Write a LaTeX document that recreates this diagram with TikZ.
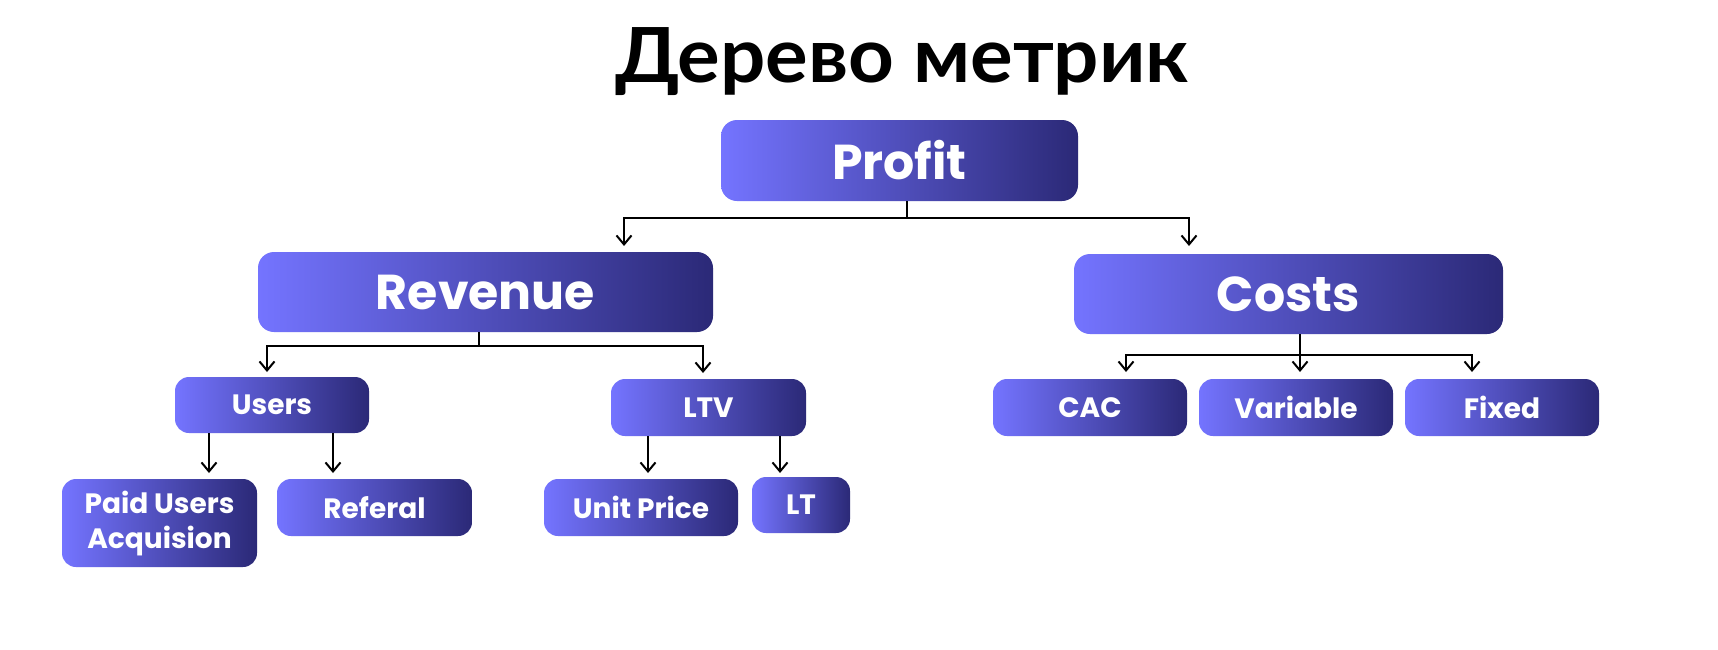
\documentclass[tikz,border=0pt]{standalone}
\usepackage{fontspec}
\setmainfont{Poppins}
\newfontfamily\titlefont{Lato}[FakeStretch=1.05]
\usetikzlibrary{arrows.meta}
\definecolor{gradL}{HTML}{7474FF}
\definecolor{gradR}{HTML}{2B2977}
\tikzset{
  box/.style={rounded corners=8pt, left color=gradL, right color=gradR, draw=none,
    text=white, font=\bfseries, align=center, inner sep=0pt},
  bigbox/.style={box, font=\fontsize{24.5}{28}\selectfont\bfseries},
  smallbox/.style={box, rounded corners=7pt, font=\fontsize{14}{17.5}\selectfont\bfseries},
  conn/.style={line width=1pt, black},
  arr/.style={conn, -{Straight Barb[length=4.5pt,width=7.5pt,line width=1pt]}},
}
\begin{document}
\begin{tikzpicture}[x=0.5pt,y=-0.5pt]
\useasboundingbox (0,0) rectangle (1718,649);
\fill[white] (0,0) rectangle (1718,649);

\node[anchor=base, font=\titlefont\fontsize{38}{44}\selectfont\bfseries] (title) at (902,82) {Дерево метрик};

% level 1
\node[bigbox, minimum width=178.5pt, minimum height=40.5pt] (profit) at (899.5,160.5) {Profit};
% level 2
\node[bigbox, minimum width=227.5pt, minimum height=40pt] (revenue) at (485.5,292) {Revenue};
\node[bigbox, minimum width=214.5pt, minimum height=40pt] (costs) at (1288.5,294) {Costs};
% level 3
\node[smallbox, minimum width=97pt, minimum height=28pt] (users) at (272,405) {Users};
\node[smallbox, minimum width=97.5pt, minimum height=28.5pt] (ltv) at (708.5,407.5) {LTV};
\node[smallbox, minimum width=97pt, minimum height=28.5pt] (cac) at (1090,407.5) {CAC};
\node[smallbox, minimum width=97pt, minimum height=28.5pt] (variable) at (1296,407.5) {Variable};
\node[smallbox, minimum width=97pt, minimum height=28.5pt] (fixed) at (1502,407.5) {Fixed};
% level 4
\node[smallbox, minimum width=97.5pt, minimum height=44pt] (paid) at (159.5,523) {Paid Users\\Acquision};
\node[smallbox, minimum width=97.5pt, minimum height=28.5pt] (referal) at (374.5,507.5) {Referal};
\node[smallbox, minimum width=97pt, minimum height=28.5pt] (unit) at (641,507.5) {Unit Price};
\node[smallbox, minimum width=49pt, minimum height=28pt] (lt) at (801,505) {LT};

% junctions and arrow ends
\coordinate (pj) at (907,218);
\coordinate (revin) at (624,246);
\coordinate (costin) at (1189,246);
\coordinate (rj) at (479,346);
\coordinate (usersin) at (267,372);
\coordinate (ltvin) at (703,373);
\coordinate (cj) at (1300,355);
\coordinate (cacin) at (1126,372);
\coordinate (varin) at (1300,372);
\coordinate (fixin) at (1472,372);
\coordinate (paidin) at (209,473);
\coordinate (refin) at (333,473);
\coordinate (unitin) at (648,473);
\coordinate (ltin) at (780,473);

\draw[conn] (profit.south -| pj) -- (pj);
\draw[arr] (pj) -| (revin);
\draw[arr] (pj) -| (costin);

\draw[conn] (revenue.south -| rj) -- (rj);
\draw[arr] (rj) -| (usersin);
\draw[arr] (rj) -| (ltvin);

\draw[arr] (costs.south -| cj) -- (varin);
\draw[arr] (cj) -| (cacin);
\draw[arr] (cj) -| (fixin);

\draw[arr] (users.south -| paidin) -- (paidin);
\draw[arr] (users.south -| refin) -- (refin);
\draw[arr] (ltv.south -| unitin) -- (unitin);
\draw[arr] (ltv.south -| ltin) -- (ltin);
\end{tikzpicture}
\end{document}
